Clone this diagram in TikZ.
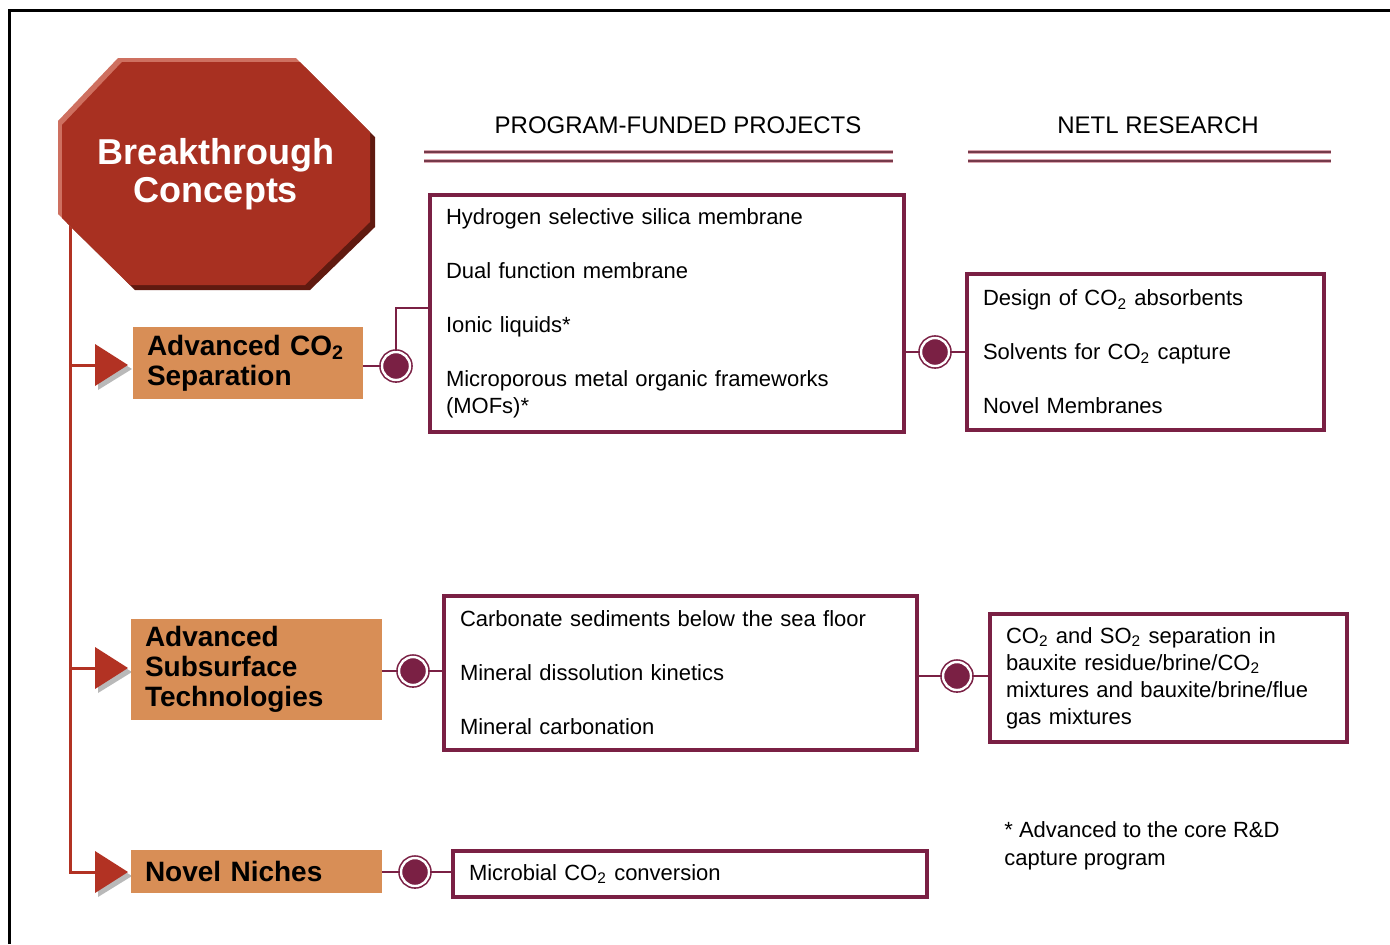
\documentclass[tikz,border=0pt]{standalone}
\usepackage{fontspec}
\setmainfont{Liberation Sans}
\usetikzlibrary{calc}

\definecolor{plum}{RGB}{122,32,68}
\definecolor{rust}{RGB}{168,48,33}
\definecolor{rustlight}{RGB}{206,112,96}
\definecolor{rustdark}{RGB}{96,26,16}
\definecolor{trunkred}{RGB}{178,50,35}
\definecolor{ochre}{RGB}{216,142,86}
\definecolor{rulepink}{RGB}{218,165,175}
\definecolor{ruledark}{RGB}{118,58,74}

\begin{document}
\begin{tikzpicture}[x=0.5pt,y=-0.5pt,
    topic/.style={fill=ochre, align=left, inner xsep=7pt, inner ysep=0pt,
      font=\fontsize{14}{15}\selectfont\bfseries},
    projbox/.style={draw=plum, line width=1.7pt, fill=white, align=left,
      inner xsep=8pt, inner ysep=0pt, font=\fontsize{11}{13.5}\selectfont},
    joint/.style={circle, fill=plum, draw=plum, double=white, line width=0.8pt,
      double distance=1.2pt, minimum size=14pt, inner sep=0pt},
    link/.style={draw=plum, line width=1pt},
    trunk/.style={draw=trunkred, line width=1.5pt},
    header/.style={font=\fontsize{12}{14}\selectfont}]
  \useasboundingbox (0,0) rectangle (1390,944);

  % Frame (top and left only)
  \draw[line width=1.5pt] (9,944) -- (9,10) -- (1390,10);

  % Trunk and branch points
  \coordinate (trunktop) at (70,200);
  \coordinate (arrA) at (95,365);
  \coordinate (arrB) at (95,668);
  \coordinate (arrC) at (95,872);
  \draw[trunk] (trunktop) |- (arrC);
  \draw[trunk] (trunktop) |- (arrB);
  \draw[trunk] (trunktop) |- (arrA);

  % Octagon: shadow, highlight, face
  \foreach \d/\col in {5/rustdark,-4/rustlight,0/rust}
    \fill[\col, shift={(\d,\d)}] (122,62) -- (300,62) -- (370,132) -- (370,222)
      -- (305,285) -- (130,285) -- (62,218) -- (62,125) -- cycle;
  \node[white, align=center, font=\fontsize{18}{19}\selectfont\bfseries]
    (bc) at (216,174) {Breakthrough\\Concepts};

  % Column headers with double rules
  \node[header] (hdrP) at (678,125) {PROGRAM-FUNDED PROJECTS};
  \node[header] (hdrN) at (1158,125) {NETL RESEARCH};
  \foreach \a/\b in {424/893,968/1331}
    \foreach \y in {152,161} {
      \draw[rulepink, line width=2.4pt] (\a,\y) -- (\b,\y);
      \draw[ruledark, line width=1pt] (\a,\y) -- (\b,\y);
    }

  % Arrow heads on the branches
  \foreach \n in {A,B,C} {
    \fill[gray!55, shift={(arr\n)}] (3,-17) -- (37,4) -- (3,25) -- cycle;
    \fill[trunkred, shift={(arr\n)}] (0,-21) -- (33,0) -- (0,21) -- cycle;
  }

  % Topic boxes
  \node[topic, text width=101pt, minimum height=36pt] (sepA) at (248,363)
    {Advanced CO\textsubscript{2}\\Separation};
  \node[topic, text width=111.5pt, minimum height=50.5pt] (subB) at (256.5,669.5)
    {Advanced\\Subsurface\\Technologies};
  \node[topic, text width=111.5pt, minimum height=21.5pt] (nicheC) at (256.5,871.5)
    {Novel Niches};

  % Program-funded projects
  \node[projbox, text width=221pt, minimum height=118.5pt] (progA) at (667,313.5)
    {Hydrogen selective silica membrane\\[13.5pt]Dual function membrane\\[13.5pt]%
     Ionic liquids*\\[13.5pt]Microporous metal organic frameworks\\(MOFs)*};
  \node[projbox, text width=220.5pt, minimum height=77pt] (progB) at (680.5,673)
    {Carbonate sediments below the sea floor\\[13.5pt]Mineral dissolution kinetics\\[13.5pt]%
     Mineral carbonation};
  \node[projbox, text width=221pt, minimum height=23pt] (progC) at (690,874)
    {Microbial CO\textsubscript{2} conversion};

  % NETL research
  \node[projbox, text width=162.5pt, minimum height=78pt] (netlA) at (1145.5,352)
    {Design of CO\textsubscript{2} absorbents\\[13.5pt]Solvents for CO\textsubscript{2} capture\\[13.5pt]%
     Novel Membranes};
  \node[projbox, text width=162.5pt, minimum height=64pt] (netlB) at (1168.5,678)
    {CO\textsubscript{2} and SO\textsubscript{2} separation in\\bauxite residue/brine/CO\textsubscript{2}\\%
     mixtures and bauxite/brine/flue\\gas mixtures};

  % Joints
  \node[joint] (jA1) at (396,366) {};
  \node[joint] (jA2) at (935,352) {};
  \node[joint] (jB1) at (413,671) {};
  \node[joint] (jB2) at (957,676) {};
  \node[joint] (jC1) at (415,872) {};
  \coordinate (kA) at (430,308);

  % Links
  \draw[link] (sepA.east |- jA1) -- (jA1);
  \draw[link] (jA1) |- (kA);
  \draw[link] (jA2 -| progA.east) -- (jA2);
  \draw[link] (jA2) -- (jA2 -| netlA.west);
  \draw[link] (subB.east |- jB1) -- (jB1);
  \draw[link] (jB1) -- (jB1 -| progB.west);
  \draw[link] (jB2 -| progB.east) -- (jB2);
  \draw[link] (jB2) -- (jB2 -| netlB.west);
  \draw[link] (nicheC.east |- jC1) -- (jC1);
  \draw[link] (jC1) -- (jC1 -| progC.west);

  % Footnote
  \node[anchor=west, inner sep=0pt, align=left, font=\fontsize{11}{14}\selectfont]
    (note) at (1004,846) {* Advanced to the core R\&D\\capture program};
\end{tikzpicture}
\end{document}
